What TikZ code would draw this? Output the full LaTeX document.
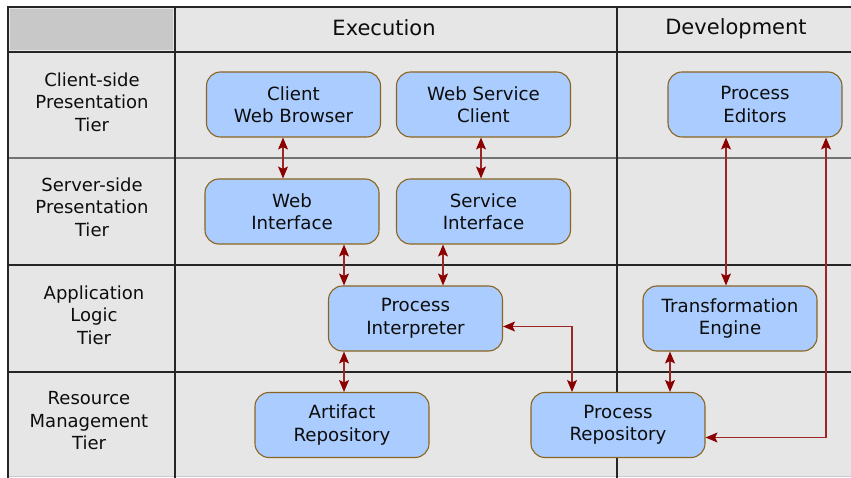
\documentclass[tikz,border=0pt]{standalone}
\usepackage{fontspec}
\setmainfont{DejaVu Sans}
\usetikzlibrary{arrows.meta}
\definecolor{cellbg}{HTML}{E6E6E6}
\definecolor{cornerbg}{HTML}{C8C8C8}
\definecolor{boxfill}{HTML}{AACCFF}
\definecolor{boxline}{HTML}{8B6420}
\definecolor{arrowred}{HTML}{8B0000}
\definecolor{txt}{HTML}{0D0D0D}
\tikzset{
  compbox/.style={draw=boxline, fill=boxfill, line width=1.1pt, rounded corners=14pt,
    minimum width=174pt, minimum height=65pt, align=center, text=txt,
    font=\fontsize{18.2}{22.5}\selectfont, inner sep=0pt},
  tierlabel/.style={align=center, text=txt, font=\fontsize{18}{22.5}\selectfont},
  headlabel/.style={text=txt, font=\fontsize{21}{25}\selectfont},
  gridline/.style={draw=black!85, line width=1.2pt},
  link/.style={draw=arrowred!85!white, line width=1.1pt,
    {Stealth[length=12pt,width=10pt,inset=2.5pt,color=arrowred]}-{Stealth[length=12pt,width=10pt,inset=2.5pt,color=arrowred]}},
}
\begin{document}
\begin{tikzpicture}[x=1pt,y=-1pt]
\useasboundingbox (0,0) rectangle (851,478);
% background cells
\fill[cellbg] (8,7) rectangle (851,476);
\fill[cornerbg] (10,9) rectangle (173,50);
\draw[black!20, line width=0.8pt] (8,476) -- (851,476);
% grid lines
\draw[gridline] (8,7) -- (851,7);
\draw[gridline] (8,52) -- (851,52);
\draw[draw=black!55, line width=1.6pt] (8,158) -- (851,158);
\draw[gridline] (8,265) -- (851,265);
\draw[gridline] (8,372) -- (851,372);
\draw[draw=black!85, line width=2.2pt] (8,6.4) -- (8,478);
\draw[gridline] (175,7) -- (175,478);
\draw[draw=black!85, line width=1.6pt] (617,7) -- (617,478);
% headers
\node[headlabel] (hexec) at (384,28) {Execution};
\node[headlabel] (hdev) at (736,29) {Development};
% tier labels
\node[tierlabel] (t1) at (92,102) {Client-side\\Presentation\\Tier};
\node[tierlabel] (t2) at (92,207) {Server-side\\Presentation\\Tier};
\node[tierlabel] (t3) at (94,315) {Application\\Logic\\Tier};
\node[tierlabel] (t4) at (89,421) {Resource\\Management\\Tier};
% components
\node[compbox] (cwb) at (293.5,104.5) {Client\\Web Browser};
\node[compbox] (wsc) at (483.5,104.5) {Web Service\\Client};
\node[compbox] (pe) at (755,104.5) {Process\\Editors};
\node[compbox] (wi) at (292,211.5) {Web\\Interface};
\node[compbox] (si) at (483.5,211.5) {Service\\Interface};
\node[compbox] (pi) at (415.5,318.5) {Process\\Interpreter};
\node[compbox] (te) at (730,318.5) {Transformation\\Engine};
\node[compbox] (ar) at (342,425) {Artifact\\Repository};
\node[compbox] (pr) at (618,425) {Process\\Repository};
% connectors
\draw[link] (cwb.south -| 283,0) -- (wi.north -| 283,0);
\draw[link] (wsc.south -| 481,0) -- (si.north -| 481,0);
\draw[link] (wi.south -| 344,0) -- (pi.north -| 344,0);
\draw[link] (si.south -| 443,0) -- (pi.north -| 443,0);
\draw[link] (pi.south -| 344,0) -- (ar.north -| 344,0);
\draw[link] (pi.east |- 0,326.5) -| (pr.north -| 572,0);
\draw[link] (pe.south -| 726,0) -- (te.north -| 726,0);
\draw[link] (te.south -| 670,0) -- (pr.north -| 670,0);
\draw[link] (pe.south -| 826,0) |- (pr.east |- 0,437.5);
\end{tikzpicture}
\end{document}
